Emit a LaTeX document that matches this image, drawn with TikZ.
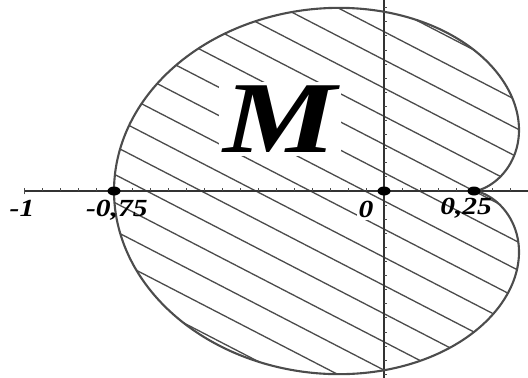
\documentclass[tikz,border=0pt]{standalone}
\usepackage{fontspec}
\setmainfont{Liberation Serif}
\usetikzlibrary{calc, positioning}

\begin{document}
\begin{tikzpicture}[x=7.2cm, y=5.64cm,
    hatch/.style={black!70, line width=0.75pt},
    axisline/.style={black!80, line width=0.8pt},
    curveline/.style={black!70, line width=1.2pt},
    tickmark/.style={black!70, line width=0.5pt},
    numlabel/.style={font=\fontsize{14}{16}\selectfont\bfseries\itshape, xscale=1.2, inner sep=1pt}]

\useasboundingbox (-1.0667,-0.6631) rectangle (0.4,0.6773);

% Hatching inside the cardioid
\begin{scope}
  \clip plot[domain=0:360, samples=181, smooth] ({cos(\x)/2-cos(2*\x)/4}, {sin(\x)/2-sin(2*\x)/4});
  \foreach \k in {-12,...,10} {
    \draw[hatch] (-0.9,{0.659+0.1*\k}) -- (0.5,{-0.265+0.1*\k});
  }
\end{scope}

% Axes
\coordinate (xl) at (-1,0);
\coordinate (xr) at (0.4,0);
\coordinate (yb) at (0,-0.6631);
\coordinate (yt) at (0,0.6773);
\draw[axisline] (xl) -- (xr);
\draw[axisline] (yb) -- (yt);
\draw[tickmark] ($(xl)+(0,-0.012)$) -- ($(xl)+(0,0.012)$);

% Small ticks
\foreach \i in {-19,...,7} {
    \draw[tickmark] (\i/20,0) -- ++(0,0.01);
}
\foreach \j in {-13,...,13} {
    \draw[tickmark] (0,\j/20) -- ++(0.008,0);
}

% Boundary of the cardioid
\draw[curveline] plot[domain=0:360, samples=181, smooth] ({cos(\x)/2-cos(2*\x)/4}, {sin(\x)/2-sin(2*\x)/4});

% Marked points
\coordinate (pA) at (-0.75,0);
\coordinate (pO) at (0,0);
\coordinate (pB) at (0.25,0);
\foreach \p in {pA,pO,pB} {
    \fill (\p) ellipse [x radius=0.13cm, y radius=0.09cm];
}

% Labels
\node[numlabel] (lm1) at (-1.0056,-0.062) {-1};
\node[numlabel] (lA) at (-0.742,-0.067) {-0,75};
\node[numlabel, fill=white] (lO) at (-0.05,-0.067) {0};
\node[numlabel] (lB) at (0.228,-0.062) {0,25};
\node[font=\fontsize{58}{60}\selectfont\bfseries\itshape, xscale=1.25, fill=white, inner sep=2pt] (M) at (-0.289,0.255) {M};

\end{tikzpicture}
\end{document}
